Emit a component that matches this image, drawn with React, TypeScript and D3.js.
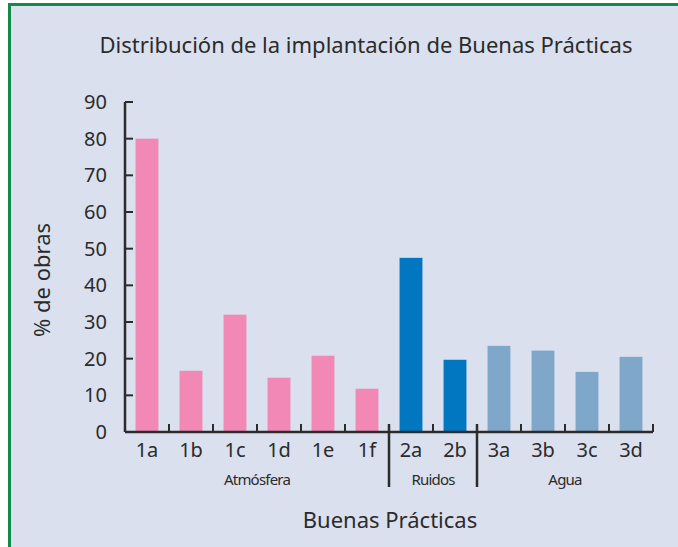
import React, { useEffect, useRef } from 'react';
import * as d3 from 'd3';

const categories = ['1a', '1b', '1c', '1d', '1e', '1f', '2a', '2b', '3a', '3b', '3c', '3d'];
const values = [80, 16.7, 32, 14.8, 20.8, 11.8, 47.5, 19.7, 23.5, 22.2, 16.4, 20.5];
const groupOf = ['atm', 'atm', 'atm', 'atm', 'atm', 'atm', 'rui', 'rui', 'agu', 'agu', 'agu', 'agu'];
const groups = [
  { key: 'atm', label: 'Atmósfera', color: '#f288b6' },
  { key: 'rui', label: 'Ruidos', color: '#0077c0' },
  { key: 'agu', label: 'Agua', color: '#7fa7c9' },
];
const yTicks = [0, 10, 20, 30, 40, 50, 60, 70, 80, 90];

const font = "'Noto Sans', 'DejaVu Sans', sans-serif";
const ink = '#2b2b2b';

export default function App() {
  const svgRef = useRef<SVGSVGElement>(null);

  const width = 678;
  const height = 547;
  const margin = { left: 125, right: 25, top: 102, bottom: 115 };
  const innerWidth = width - margin.left - margin.right;
  const innerHeight = height - margin.top - margin.bottom;

  useEffect(() => {
    const svg = d3.select(svgRef.current);
    svg.selectAll('*').remove();

    svg.append('rect').attr('width', width).attr('height', height).attr('fill', '#ffffff');
    svg
      .append('rect')
      .attr('x', 9.5)
      .attr('y', 4.5)
      .attr('width', width + 20)
      .attr('height', height + 20)
      .attr('fill', '#dae0ee')
      .attr('stroke', '#13894a')
      .attr('stroke-width', 3);

    svg
      .append('text')
      .attr('x', 366)
      .attr('y', 53)
      .attr('text-anchor', 'middle')
      .attr('font-family', font)
      .attr('font-size', 22)
      .attr('fill', ink)
      .text('Distribución de la implantación de Buenas Prácticas');

    const x = d3.scaleBand().domain(categories).range([0, innerWidth]).paddingInner(0.48).paddingOuter(0.24);
    const y = d3.scaleLinear().domain([0, 90]).range([innerHeight, 0]);
    const step = x.step();

    const g = svg.append('g').attr('transform', `translate(${margin.left},${margin.top})`);

    const colorOf = (k: string) => groups.find((gr) => gr.key === k)!.color;

    g.selectAll('rect.bar')
      .data(categories)
      .enter()
      .append('rect')
      .attr('class', 'bar')
      .attr('x', (d) => x(d)!)
      .attr('width', x.bandwidth())
      .attr('y', (d, i) => y(values[i]))
      .attr('height', (d, i) => innerHeight - y(values[i]))
      .attr('fill', (d, i) => colorOf(groupOf[i]));

    // y axis
    const yAxis = g
      .append('g')
      .call(d3.axisLeft(y).tickValues(yTicks).tickSize(0).tickPadding(18));
    yAxis.select('.domain').remove();
    yAxis
      .selectAll('text')
      .attr('font-family', font)
      .attr('font-size', 20)
      .attr('fill', ink);
    g.append('line')
      .attr('x1', 0)
      .attr('x2', 0)
      .attr('y1', y(90))
      .attr('y2', innerHeight)
      .attr('stroke', ink)
      .attr('stroke-width', 2.5);
    g.selectAll('line.ytick')
      .data(yTicks.filter((t) => t > 0))
      .enter()
      .append('line')
      .attr('class', 'ytick')
      .attr('x1', 0)
      .attr('x2', 8)
      .attr('y1', (d) => y(d))
      .attr('y2', (d) => y(d))
      .attr('stroke', ink)
      .attr('stroke-width', 2);

    // x axis
    g.append('line')
      .attr('x1', 0)
      .attr('x2', innerWidth)
      .attr('y1', innerHeight)
      .attr('y2', innerHeight)
      .attr('stroke', ink)
      .attr('stroke-width', 2.5);
    const boundaries = d3.range(1, categories.length + 1);
    g.selectAll('line.xtick')
      .data(boundaries)
      .enter()
      .append('line')
      .attr('class', 'xtick')
      .attr('x1', (d) => d * step)
      .attr('x2', (d) => d * step)
      .attr('y1', innerHeight - 8)
      .attr('y2', innerHeight)
      .attr('stroke', ink)
      .attr('stroke-width', 2);

    const xAxis = g
      .append('g')
      .attr('transform', `translate(0,${innerHeight})`)
      .call(d3.axisBottom(x).tickSize(0).tickPadding(11));
    xAxis.select('.domain').remove();
    xAxis
      .selectAll('text')
      .attr('font-family', font)
      .attr('font-size', 20)
      .attr('fill', ink);

    // group separators and labels
    const groupRanges = groups.map((gr) => {
      const idx = groupOf.map((k, i) => (k === gr.key ? i : -1)).filter((i) => i >= 0);
      return { ...gr, start: idx[0], end: idx[idx.length - 1] + 1 };
    });
    groupRanges.slice(1).forEach((gr) => {
      g.append('line')
        .attr('x1', gr.start * step)
        .attr('x2', gr.start * step)
        .attr('y1', innerHeight - 8)
        .attr('y2', innerHeight + 55)
        .attr('stroke', ink)
        .attr('stroke-width', 2.5);
    });
    g.selectAll('text.group')
      .data(groupRanges)
      .enter()
      .append('text')
      .attr('class', 'group')
      .attr('x', (d) => ((d.start + d.end) / 2) * step)
      .attr('y', innerHeight + 53)
      .attr('text-anchor', 'middle')
      .attr('font-family', font)
      .attr('font-size', 15)
      .attr('letter-spacing', -0.8)
      .attr('fill', ink)
      .text((d) => d.label);

    svg
      .append('text')
      .attr('x', 390)
      .attr('y', 528)
      .attr('text-anchor', 'middle')
      .attr('font-family', font)
      .attr('font-size', 22)
      .attr('fill', ink)
      .text('Buenas Prácticas');

    svg
      .append('text')
      .attr('transform', 'translate(50,280) rotate(-90)')
      .attr('text-anchor', 'middle')
      .attr('font-family', font)
      .attr('font-size', 22)
      .attr('fill', ink)
      .text('% de obras');
  }, []);

  return (
    <svg
      ref={svgRef}
      width={width}
      height={height}
      style={{ position: 'absolute', left: 0, top: 0, display: 'block' }}
    />
  );
}
